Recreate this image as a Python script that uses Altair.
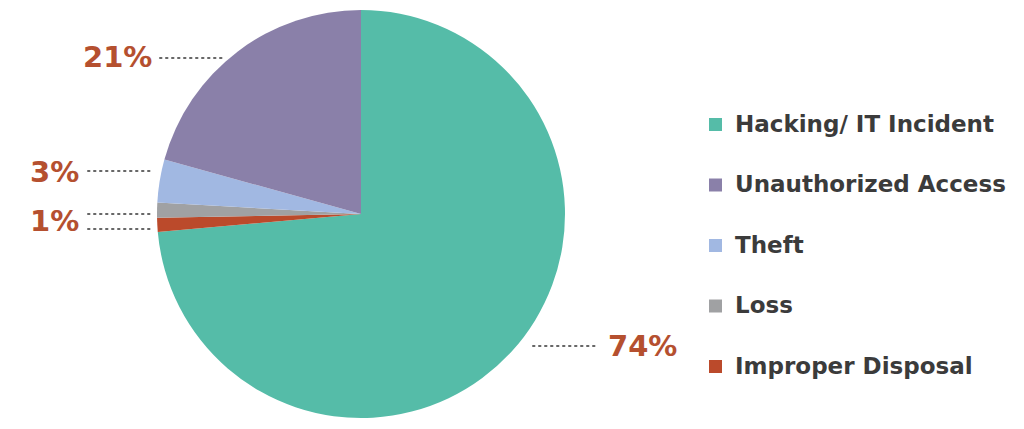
import altair as alt
import pandas as pd

# Pie slices in drawing order (clockwise from 12 o'clock)
categories = ["Hacking/ IT Incident", "Improper Disposal", "Loss", "Theft", "Unauthorized Access"]
values = [73.6, 1.1, 1.2, 3.4, 20.7]
slice_order = [1, 2, 3, 4, 5]

# Legend order and colours
legend_order = ["Hacking/ IT Incident", "Unauthorized Access", "Theft", "Loss", "Improper Disposal"]
legend_colors = ["#55bca8", "#8a80a9", "#a1b8e2", "#a0a1a3", "#bb4a2b"]

# Percent labels shown on the chart
pct_labels = ["74%", "21%", "3%", "1%"]

df = pd.DataFrame({"category": categories, "value": values, "order": slice_order})

OX, OY = 8, 8  # page margin offset
FONT = "DejaVu Sans"

pie = alt.Chart(df).mark_arc(outerRadius=204, strokeWidth=0).encode(
    theta=alt.Theta("value:Q", stack=True),
    order=alt.Order("order:Q"),
    color=alt.Color(
        "category:N",
        scale=alt.Scale(domain=legend_order, range=legend_colors),
        legend=alt.Legend(
            title=None,
            orient="none",
            legendX=704 - OX,
            legendY=113 - OY,
            symbolType="square",
            symbolSize=169,
            symbolStrokeWidth=0,
            symbolOpacity=1,
            labelFont=FONT,
            labelFontSize=23,
            labelFontWeight="bold",
            labelColor="#3b3b3b",
            labelOffset=8,
            rowPadding=36.5,
            padding=0,
            labelLimit=400,
        ),
    ),
    x=alt.value(361 - OX),
    y=alt.value(214 - OY),
)

label_color = "#b5502f"
dot_color = "#666666"

def pct_text(text, x, y):
    return alt.Chart(pd.DataFrame({"t": [text]})).mark_text(
        font=FONT, fontSize=29, fontWeight="bold", color=label_color,
        align="left", baseline="middle",
    ).encode(text="t:N", x=alt.value(x - OX), y=alt.value(y - OY))

def leader(x1, x2, y):
    return alt.Chart(pd.DataFrame({"a": [0]})).mark_rule(
        color=dot_color, strokeWidth=2, strokeDash=[1.5, 4.5], strokeCap="round",
    ).encode(x=alt.value(x1 - OX), x2=alt.value(x2 - OX), y=alt.value(y - OY))

layers = [
    pie,
    pct_text(pct_labels[0], 608, 347),
    leader(533, 597, 346),
    pct_text(pct_labels[1], 83, 58),
    leader(160, 226, 58),
    pct_text(pct_labels[2], 30, 173),
    leader(88, 153, 171),
    pct_text(pct_labels[3], 30, 222),
    leader(88, 153, 214),
    leader(88, 153, 229),
]

chart = alt.layer(*layers).properties(
    width=1008, height=413,
    autosize=alt.AutoSizeParams(type="none"),
    padding=0,
).configure(background="white").configure_view(strokeWidth=0, stroke="transparent")

chart.save("out.html", embed_options={"renderer": "svg", "actions": False})
